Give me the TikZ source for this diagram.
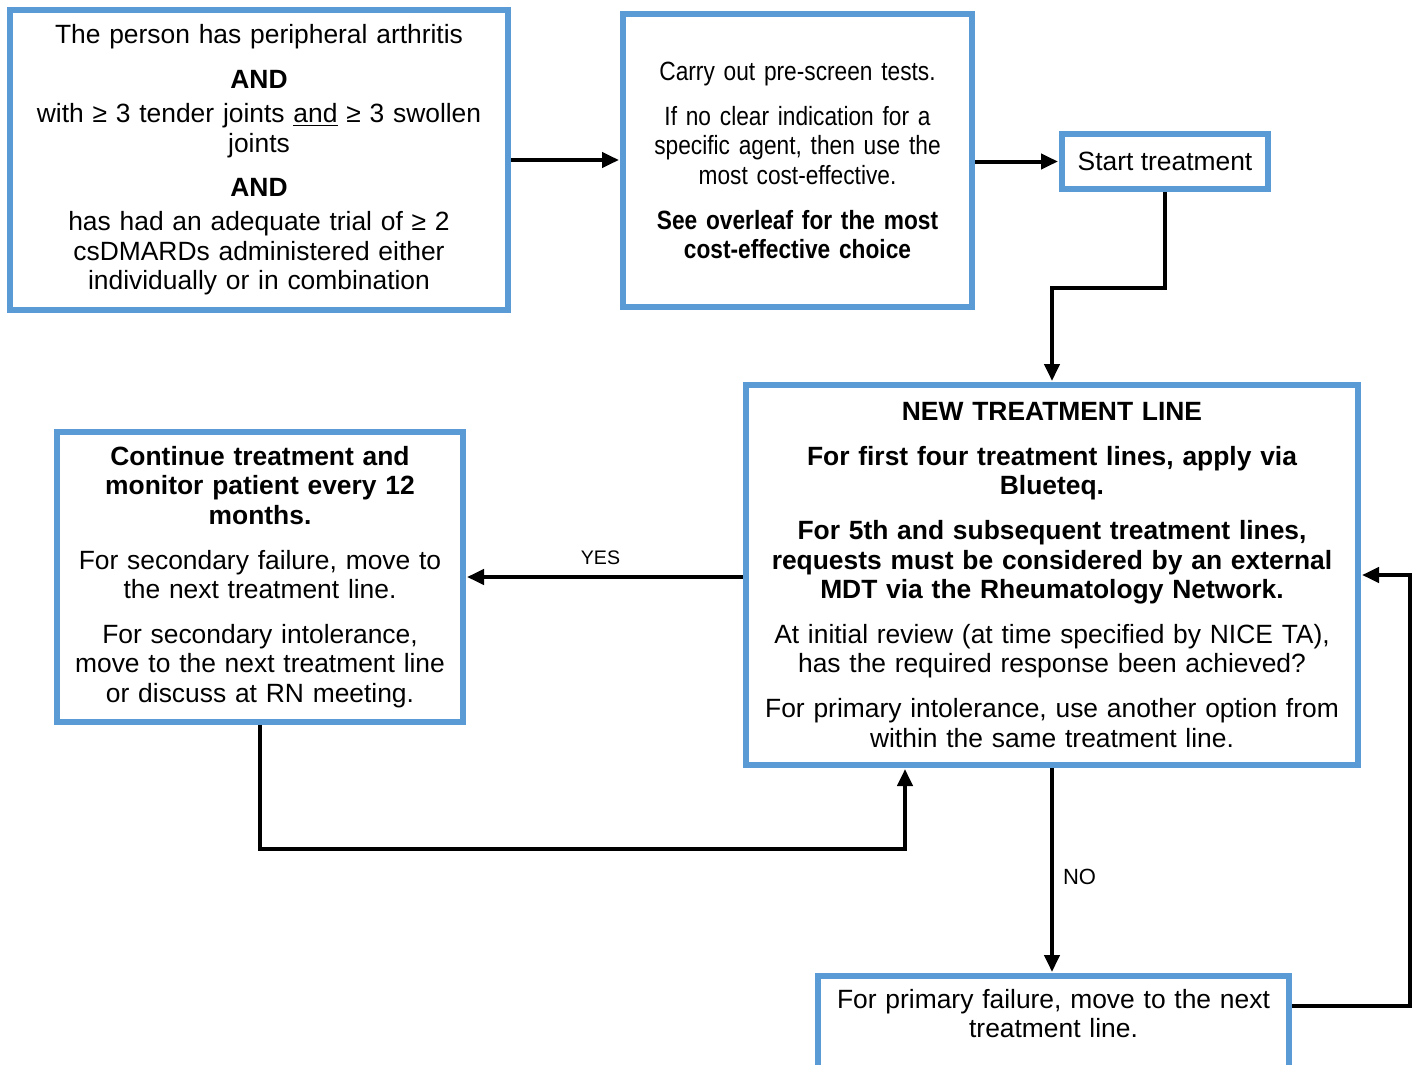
\documentclass[tikz,border=0pt]{standalone}
\usepackage{fontspec}
\setmainfont{Liberation Sans}
\newfontfamily\condfont[FakeStretch=0.86]{Liberation Sans}
\usetikzlibrary{arrows.meta}
\definecolor{boxblue}{HTML}{5B9BD5}
\newcommand{\boxsize}{\fontsize{13.2}{14.7}\selectfont}

\begin{document}
\begin{tikzpicture}[x=0.5pt,y=-0.5pt,
    box/.style={draw=boxblue, line width=3pt, fill=white, inner sep=0pt, align=center, font=\boxsize},
    flow/.style={line width=2pt, -{Triangle[length=8.5pt,width=7.5pt]}, shorten >=0.5pt},
    tag/.style={font=\fontsize{9.8}{11}\selectfont, inner sep=2pt}]
  \useasboundingbox (0,0) rectangle (1413,1065);
  %
  % boxes, placed at their centres
  \node[box, minimum width=249pt, minimum height=150pt, text width=240pt] (entry) at (259,160) {%
    The person has peripheral arthritis\\[7.75pt]
    \textbf{AND}\\[2.25pt]
    with ≥ 3 tender joints \underline{and} ≥ 3 swollen\\ joints\\[7.25pt]
    \textbf{AND}\\[2.75pt]
    has had an adequate trial of ≥ 2\\ csDMARDs administered either\\ individually or in combination};
  \node[box, minimum width=174.5pt, minimum height=146.5pt, text width=165pt] (screen) at (797.5,160.5) {%
    \condfont Carry out pre-screen tests.\\[7.75pt]
    If no clear indication for a\\ specific agent, then use the\\ most cost-effective.\\[7.75pt]
    \textbf{See overleaf for the most\\ cost-effective choice}};
  \node[box, minimum width=103pt, minimum height=27.5pt] (start) at (1165,161.5) {Start treatment};
  \node[box, minimum width=306pt, minimum height=190pt, text width=295pt] (review) at (1052,575) {%
    \textbf{NEW TREATMENT LINE}\\[7.75pt]
    \textbf{For first four treatment lines, apply via\\ Blueteq.}\\[7.75pt]
    \textbf{For 5th and subsequent treatment lines,\\ requests must be considered by an external\\ MDT via the Rheumatology Network.}\\[7.75pt]
    At initial review (at time specified by NICE TA),\\ has the required response been achieved?\\[7.75pt]
    For primary intolerance, use another option from\\ within the same treatment line.};
  \node[box, minimum width=203pt, minimum height=145pt, text width=195pt] (cont) at (260,577) {%
    \textbf{Continue treatment and\\ monitor patient every 12\\ months.}\\[7.75pt]
    For secondary failure, move to\\ the next treatment line.\\[7.75pt]
    For secondary intolerance,\\ move to the next treatment line\\ or discuss at RN meeting.};
  % bottom box runs off the page
  \node[box, anchor=north, minimum width=235.5pt, inner ysep=6.5pt, text width=227.5pt] (fail) at (1053.5,973) {%
    For primary failure, move to the next\\ treatment line.\\[60pt]\mbox{}};
  %
  % connectors
  \draw[flow] (entry.east) -- (entry.east -| screen.west);
  \draw[flow] (screen.east |- start.west) -- (start.west);
  \draw[flow] (start.south) -- ++(0,96) -| (review.north);
  \draw[flow] (review.west |- cont.east) -- (cont.east) node[tag, midway, above=3pt, xshift=-2pt] {YES};
  \draw[flow] (cont.south) -- ++(0,124) -| ([xshift=-73.5pt]review.south);
  \draw[flow] (review.south) -- (review.south |- fail.north) node[tag, pos=0.53, right=2.5pt, font=\fontsize{11}{13}\selectfont] {NO};
  \draw[flow] ([yshift=-16.5pt]fail.north east) -- ++(118,0) |- (review.east);
\end{tikzpicture}
\end{document}
